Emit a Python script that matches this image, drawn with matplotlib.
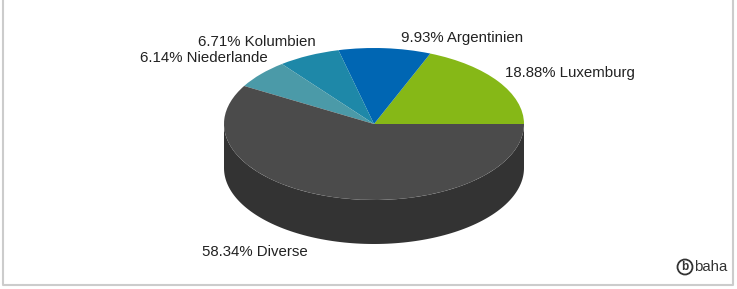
import numpy as np
import matplotlib
matplotlib.use("Agg")
import matplotlib.pyplot as plt
from matplotlib.patches import Wedge, Polygon, Circle
from matplotlib.transforms import Affine2D

plt.rcParams['font.family'] = ['Liberation Sans', 'DejaVu Sans']

# Daten
labels = ['Luxemburg', 'Argentinien', 'Kolumbien', 'Niederlande', 'Diverse']
values = [18.88, 9.93, 6.71, 6.14, 58.34]
colors = ['#86b817', '#0066b3', '#1e88a8', '#4b9aa8', '#4b4b4b']
side_color = '#333333'

# Layout (Pixel)
W, H = 737, 289
cx, cy = 374, H - 124
rx, ry = 150, 76
depth = 44
label_pos = [(505, 73, 'left'), (401, 38, 'left'), (316, 42, 'right'),
             (268, 58, 'right'), (202, 252, 'left')]

fig = plt.figure(figsize=(W / 100, H / 100), dpi=100)
ax = fig.add_axes([0, 0, 1, 1])
ax.set_xlim(0, W)
ax.set_ylim(0, H)
ax.axis('off')

squash = Affine2D().scale(1, ry / rx).translate(cx, cy) + ax.transData
squash_low = Affine2D().scale(1, ry / rx).translate(cx, cy - depth) + ax.transData

angles = np.concatenate([[0], np.cumsum(values) / sum(values) * 360])

# Seitenflaeche (nur vorne sichtbar: 180..360 Grad)
for i in range(len(values)):
    a1 = max(angles[i], 180)
    a2 = min(angles[i + 1], 360)
    if a2 <= a1:
        continue
    t = np.radians(np.linspace(a1, a2, 120))
    top = np.column_stack([rx * np.cos(t), rx * np.sin(t)])
    pts_top = squash.transform(top)
    pts_low = squash_low.transform(top[::-1])
    pts = ax.transData.inverted().transform(np.vstack([pts_top, pts_low]))
    ax.add_patch(Polygon(pts, closed=True, facecolor=side_color,
                         edgecolor='none', zorder=1))

# Deckflaeche
for i, c in enumerate(colors):
    w = Wedge((0, 0), rx, angles[i], angles[i + 1], facecolor=c,
              edgecolor='none', transform=squash, zorder=2)
    ax.add_patch(w)

# Beschriftungen
for lab, val, (x, y, ha) in zip(labels, values, label_pos):
    ax.text(x, H - y, f'{val:.2f}% {lab}', ha=ha, va='center',
            fontsize=10.8, color='#222222', zorder=3)

# Rahmen
ax.plot([3, 3, 733, 733], [H, H - 285, H - 285, H], color='#cccccc', lw=1.5)

# Logo
ax.add_patch(Circle((685, H - 267), 7.5, facecolor='none', edgecolor='#333333', lw=1.3))
ax.text(685, H - 267, 'b', ha='center', va='center', fontsize=8.5,
        fontweight='bold', color='#333333')
ax.text(694, H - 267, 'baha', ha='left', va='center', fontsize=10.8, color='#333333')

fig.savefig('out.png', dpi=100)
